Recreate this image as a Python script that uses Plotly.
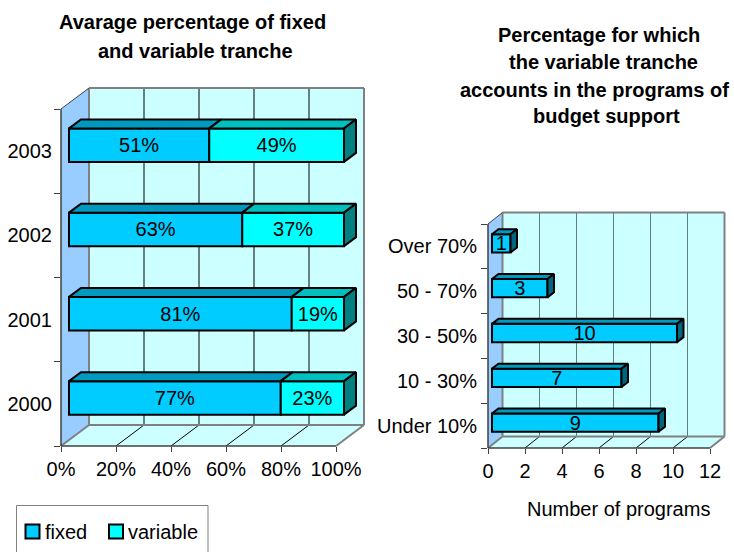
import plotly.graph_objects as go

W, H = 734, 552

years = ["2000", "2001", "2002", "2003"]
fixed = [77, 81, 63, 51]
variable = [23, 19, 37, 49]
pct_ticks = [0, 20, 40, 60, 80, 100]

ranges = ["Under 10%", "10 - 30%", "30 - 50%", "50 - 70%", "Over 70%"]
programs = [9, 7, 10, 3, 1]
count_ticks = [0, 2, 4, 6, 8, 10, 12]

FONT = "Liberation Sans"
FS = 20
GRAY = "#808080"
DARK = "#404040"
WALL = "#CCFFFF"
SIDE = "#99CCFF"
C_FIXED = "#00CCFF"
C_VAR = "#00FFFF"


def px(x):
    return x / W


def py(y):
    return 1 - y / H


class Box:
    # front plane of a fake 3D box, plus the offset of its back wall (pixels)
    def __init__(self, x0, x1, y0, y1, vmax, n, depth, bar_off, bar_depth, bar_h):
        self.x0, self.x1, self.y0, self.y1 = x0, x1, y0, y1
        self.vmax, self.n = vmax, n
        self.dx, self.dy = depth
        self.ux = (x1 - x0) / vmax      # px per value
        self.uy = (y0 - y1) / n         # px per category
        self.bar_off, self.bar_depth = bar_off, bar_depth
        self.bar_h = bar_h / self.uy
        self.xrange = [0, vmax * (x1 - x0 + self.dx) / (x1 - x0)]
        self.yrange = [-0.5, n - 0.5 + self.dy / self.uy]
        self.domain_x = [px(x0), px(x1 + self.dx)]
        self.domain_y = [py(y0), py(y1 - self.dy)]

    def sx(self, v, back=0):
        return self.x0 + v * self.ux + back * self.dx

    def sy(self, back=0, top=False):
        return (self.y1 if top else self.y0) - back * self.dy


def line(a, b, color, width):
    return dict(type="line", xref="paper", yref="paper", layer="below",
                x0=px(a[0]), y0=py(a[1]), x1=px(b[0]), y1=py(b[1]),
                line=dict(color=color, width=width))


def poly(points, fill):
    d = "M" + " L".join(f"{px(x)},{py(y)}" for x, y in points) + " Z"
    return dict(type="path", xref="paper", yref="paper", layer="below", path=d,
                fillcolor=fill, line=dict(width=0))


def box_shapes(b, ticks, grid_color):
    x0, x1 = b.sx(0), b.sx(b.vmax)
    bx0, bx1 = b.sx(0, 1), b.sx(b.vmax, 1)
    y0, y1 = b.sy(), b.sy(top=True)
    by0, by1 = b.sy(1), b.sy(1, True)
    s = [
        poly([(bx0, by0), (bx1, by0), (bx1, by1), (bx0, by1)], WALL),
        poly([(x0, y0), (x1, y0), (bx1, by0), (bx0, by0)], WALL),
        poly([(x0, y0), (bx0, by0), (bx0, by1), (x0, y1)], SIDE),
    ]
    for t in ticks[1:-1]:
        s.append(line((b.sx(t, 1), by1), (b.sx(t, 1), by0), grid_color, 1))
        s.append(line((b.sx(t), y0), (b.sx(t, 1), by0), "#000000", 1))
    s += [
        line((bx0, by1), (bx1, by1), GRAY, 2),
        line((bx1, by1), (bx1, by0), GRAY, 2),
        line((bx0, by1), (bx0, by0), GRAY, 2),
        line((bx0, by0), (bx1, by0), GRAY, 2),
        line((bx1, by0), (x1, y0), GRAY, 2),
        line((x0, y0), (bx0, by0), GRAY, 2),
        line((x0, y0), (x1, y0), DARK, 1.5),
        line((x0, y1), (x0, y0), DARK, 1.5),
        line((x0, y1), (bx0, by1), DARK, 1),
    ]
    return s


def bar_traces(b, base, values, labels, name, color, top_color, side_color, xa, ya):
    ox, oy = b.bar_off[0] / b.ux, b.bar_off[1] / b.uy
    ddx, ddy = b.bar_depth[0] / b.ux, b.bar_depth[1] / b.uy
    cats = list(range(len(values)))
    traces = [go.Bar(
        x=values, y=[c + oy for c in cats], base=[v + ox for v in base],
        width=b.bar_h, orientation="h", name=name, xaxis=xa, yaxis=ya,
        marker=dict(color=color, line=dict(color="#000000", width=2)),
        text=labels, textposition="inside", insidetextanchor="middle", textangle=0,
        constraintext="none",
        textfont=dict(family=FONT, size=FS, color="#000000"),
        cliponaxis=False, showlegend=False,
    )]
    top_x, top_y, side_x, side_y = [], [], [], []
    for c, start, v in zip(cats, base, values):
        left, right = start + ox, start + v + ox
        lo = c + oy - b.bar_h / 2
        hi = c + oy + b.bar_h / 2
        top_x += [left, right, right + ddx, left + ddx, left, None]
        top_y += [hi, hi, hi + ddy, hi + ddy, hi, None]
        side_x += [right, right + ddx, right + ddx, right, right, None]
        side_y += [lo, lo + ddy, hi + ddy, hi, lo, None]
    for fx, fy, col in ((top_x, top_y, top_color), (side_x, side_y, side_color)):
        if col is None:
            continue
        traces.append(go.Scatter(
            x=fx, y=fy, mode="lines", fill="toself", fillcolor=col,
            line=dict(color="#000000", width=2), xaxis=xa, yaxis=ya,
            cliponaxis=False, showlegend=False, hoverinfo="skip",
        ))
    return traces


def text(x, y, s, bold=False, anchor="center"):
    return dict(xref="paper", yref="paper", x=px(x), y=py(y), text=f"<b>{s}</b>" if bold else s,
                showarrow=False, xanchor=anchor, yanchor="middle",
                font=dict(family=FONT, size=FS, color="#000000"))


left = Box(61, 336, 446, 109, 100, 4, (28, 21), (8, 6), (12, 9), 33.5)
right = Box(488, 710, 448, 224, 12, 5, (14.5, 11.5), (4, 3), (6.5, 5), 18.3)

fig = go.Figure()
for t in bar_traces(left, [0, 0, 0, 0], fixed, [f"{v}%" for v in fixed], "fixed",
                    C_FIXED, "#0099BF", None, "x", "y"):
    fig.add_trace(t)
for t in bar_traces(left, fixed, variable, [f"{v}%" for v in variable], "variable",
                    C_VAR, "#00BFBF", "#008080", "x", "y"):
    fig.add_trace(t)
for t in bar_traces(right, [0] * 5, programs, [str(v) for v in programs], "programs",
                    C_FIXED, "#0099BF", "#006680", "x2", "y2"):
    fig.add_trace(t)

shapes = box_shapes(left, pct_ticks, "#000000") + box_shapes(right, count_ticks, "#5F7F7F")

# legend box
shapes.append(dict(type="rect", xref="paper", yref="paper", layer="below",
                   x0=px(16.5), x1=px(208), y0=py(505.5), y1=py(560),
                   line=dict(color=GRAY, width=1), fillcolor="#FFFFFF"))
for x, col in ((25.5, C_FIXED), (109, C_VAR)):
    shapes.append(dict(type="rect", xref="paper", yref="paper",
                       x0=px(x), x1=px(x + 14), y0=py(524.5), y1=py(538.5),
                       line=dict(color="#000000", width=2), fillcolor=col))

annotations = [
    text(192.5, 22, "Avarage percentage of fixed", True),
    text(195, 51, "and variable tranche", True),
    text(598.5, 35, "Percentage for which", True),
    text(603.5, 62, "the variable tranche", True),
    text(594.5, 90, "accounts in the programs of", True),
    text(606.5, 116, "budget support", True),
    text(618, 509, "Number of programs"),
    text(43, 532, "fixed", anchor="left"),
    text(126, 532, "variable", anchor="left"),
]


def value_axis(b, ticks, labels):
    return dict(domain=b.domain_x, range=b.xrange, tickvals=ticks, ticktext=labels,
                ticks="outside", ticklen=5, tickcolor=DARK, showgrid=False, zeroline=False,
                showline=False, tickfont=dict(family=FONT, size=FS, color="#000000"))


def cat_axis(b, labels, label_gap):
    return dict(domain=b.domain_y, range=b.yrange, tickvals=list(range(len(labels))),
                ticktext=labels, ticks="outside", ticklen=label_gap, tickcolor="rgba(0,0,0,0)",
                minor=dict(tickvals=[i - 0.5 for i in range(len(labels) + 1)], ticks="outside",
                           ticklen=6, tickcolor=DARK, showgrid=False),
                showgrid=False, zeroline=False, showline=False,
                tickfont=dict(family=FONT, size=FS, color="#000000"))


fig.update_layout(
    width=W, height=H, autosize=False,
    margin=dict(l=0, r=0, t=0, b=0, pad=0, autoexpand=False),
    paper_bgcolor="#FFFFFF", plot_bgcolor="rgba(0,0,0,0)",
    barmode="overlay", showlegend=False,
    xaxis=value_axis(left, pct_ticks, [f"{t}%" for t in pct_ticks]),
    yaxis=cat_axis(left, years, 4),
    xaxis2=dict(anchor="y2", **value_axis(right, count_ticks, [str(t) for t in count_ticks])),
    yaxis2=dict(anchor="x2", **cat_axis(right, ranges, 6)),
    shapes=shapes, annotations=annotations,
)

# page default margin would push the figure 8px off the window
fig.write_html("out.html", config={"displayModeBar": False},
               post_script="document.body.style.margin='0';")
